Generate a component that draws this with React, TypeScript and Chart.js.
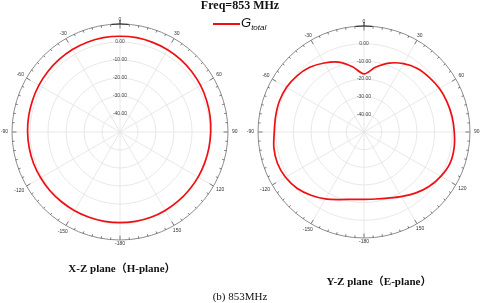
import React, { useEffect, useRef } from 'react';
import { Chart, registerables } from 'chart.js';
Chart.register(...registerables);

// angle categories, degrees clockwise from top
const angleCategories = ['0','10','20','30','40','50','60','70','80','90','100','110','120','130','140','150','160','170','180','190','200','210','220','230','240','250','260','270','280','290','300','310','320','330','340','350'];
// labels shown every 30 degrees around the ring
const angleTickLabels = ['0','30','60','90','120','150','-180','-150','-120','-90','-60','-30'];

// Gain (dBi) – X-Z plane (H-plane)
const hPlaneGain = [3.2,3.2,3.0,2.8,2.5,2.1,1.7,1.2,0.8,0.4,0.2,0.1,0.1,0.1,0.2,0.3,0.4,0.4,0.4,0.4,0.4,0.5,0.6,0.8,0.9,1.1,1.2,1.35,1.5,1.7,2.0,2.3,2.6,2.9,3.1,3.2];
// Gain (dBi) – Y-Z plane (E-plane)
const ePlaneGain = [-17.1,-12.8,-8.5,-5.3,-3.0,-1.8,-0.7,0.0,0.6,1.1,1.8,1.8,0.2,-2.0,-4.8,-7.8,-10.2,-11.5,-11.9,-11.3,-9.3,-6.3,-3.3,-0.5,1.3,2.1,1.8,0.8,0.8,1.0,0.6,-0.5,-2.2,-4.9,-7.9,-12.5];

const rMin = -50;
const rMax = 10;
const rStep = 10;

const polarFrame = {
  id: 'polarFrame',
  afterDraw(chart: any) {
    const s = chart.scales.r;
    const ctx = chart.ctx;
    const R = s.drawingArea, xc = s.xCenter, yc = s.yCenter;
    ctx.save();
    ctx.strokeStyle = '#5a5a5a';
    ctx.lineWidth = 0.8;
    for (let d = 0; d < 360; d += 5) {
      const a = (d * Math.PI) / 180;
      const len = d % 30 === 0 ? 4.5 : 2.2;
      ctx.beginPath();
      ctx.moveTo(xc + R * Math.sin(a), yc - R * Math.cos(a));
      ctx.lineTo(xc + (R - len) * Math.sin(a), yc - (R - len) * Math.cos(a));
      ctx.stroke();
    }
    // marker at 0 degrees
    ctx.strokeStyle = '#222';
    ctx.lineWidth = 1;
    ctx.beginPath();
    ctx.arc(xc, yc, R, -Math.PI / 2 - 0.08, -Math.PI / 2 + 0.08);
    ctx.stroke();
    ctx.beginPath();
    ctx.moveTo(xc, yc - R);
    ctx.lineTo(xc, yc - R - 4);
    ctx.stroke();

    ctx.font = '5px "Liberation Sans", Arial, sans-serif';
    ctx.fillStyle = '#333';
    ctx.textAlign = 'center';
    ctx.textBaseline = 'middle';
    angleTickLabels.forEach((t, k) => {
      const a = (k * 30 * Math.PI) / 180;
      const w = ctx.measureText(t).width;
      const r = R + 4 + Math.abs(Math.sin(a)) * (w / 2);
      ctx.fillText(t, xc + r * Math.sin(a), yc - r * Math.cos(a));
    });
    ctx.restore();
  },
};

function PolarChart({ data, width, height, padding }: { data: number[]; width: number; height: number; padding: any }) {
  const ref = useRef<HTMLCanvasElement>(null);
  useEffect(() => {
    const chart = new Chart(ref.current as HTMLCanvasElement, {
      type: 'radar',
      data: {
        labels: angleCategories,
        datasets: [
          {
            data,
            borderColor: 'rgb(240,14,18)',
            borderWidth: 1.7,
            pointRadius: 0,
            fill: false,
            tension: 0.3,
          },
        ],
      },
      options: {
        animation: false,
        responsive: false,
        layout: { padding },
        plugins: { legend: { display: false }, tooltip: { enabled: false } },
        scales: {
          r: {
            min: rMin,
            max: rMax,
            startAngle: 0,
            ticks: {
              stepSize: rStep,
              showLabelBackdrop: false,
              backdropPadding: 0,
              color: '#444',
              font: { size: 5, family: '"Liberation Sans", Arial, sans-serif' },
              callback: (v: any) => (v === rMax || v === rMin ? '' : Number(v).toFixed(2)),
            },
            grid: {
              circular: true,
              color: (c: any) => (c.tick && c.tick.value === rMax ? '#8c8c8c' : '#e2e2e2'),
              lineWidth: (c: any) => (c.tick && c.tick.value === rMax ? 1 : 0.8),
            },
            angleLines: {
              color: (c: any) => (c.index % 3 === 0 ? '#e2e2e2' : 'rgba(0,0,0,0)'),
              lineWidth: 0.8,
            },
            pointLabels: { display: false },
          },
        },
      },
      plugins: [polarFrame],
    } as any);
    return () => chart.destroy();
  }, []);
  return <canvas ref={ref} width={width} height={height} style={{ width, height, display: 'block' }} />;
}

export default function App() {
  const serif = '"Liberation Serif", "Times New Roman", "Noto Sans CJK SC", serif';
  return (
    <div style={{ position: 'absolute', left: 0, top: 0, width: 480, height: 303, background: '#fff', overflow: 'hidden', fontFamily: serif, color: '#111' }}>
      <div style={{ position: 'absolute', left: 0, top: 0 }}>
        <PolarChart data={hPlaneGain} width={240} height={266} padding={{ left: 9, right: 9, top: 20, bottom: 21 }} />
      </div>
      <div style={{ position: 'absolute', left: 244, top: 0 }}>
        <PolarChart data={ePlaneGain} width={236} height={266} padding={{ left: 11, right: 7, top: 22, bottom: 23 }} />
      </div>
      <div style={{ position: 'absolute', left: 140, width: 200, top: -1, textAlign: 'center', fontWeight: 'bold', fontSize: 12, lineHeight: '12px' }}>Freq=853 MHz</div>
      <div style={{ position: 'absolute', left: 213, top: 23, width: 27, height: 2, background: 'rgb(240,14,18)' }} />
      <div style={{ position: 'absolute', left: 241, top: 16, fontFamily: '"Liberation Sans", Arial, sans-serif', fontStyle: 'italic', fontSize: 13, lineHeight: '14px', whiteSpace: 'nowrap' }}>
        G<sub style={{ fontSize: 8, verticalAlign: '-3px' }}>total</sub>
      </div>
      <div style={{ position: 'absolute', left: 22, width: 200, top: 262, textAlign: 'center', fontWeight: 'bold', fontSize: 11, lineHeight: '12px', whiteSpace: 'nowrap' }}>X-Z plane（H-plane）</div>
      <div style={{ position: 'absolute', left: 279, width: 200, top: 275, textAlign: 'center', fontWeight: 'bold', fontSize: 11, lineHeight: '12px', whiteSpace: 'nowrap' }}>Y-Z plane（E-plane）</div>
      <div style={{ position: 'absolute', left: 140, width: 200, top: 290, textAlign: 'center', fontSize: 11, lineHeight: '12px', whiteSpace: 'nowrap' }}>(b) 853MHz</div>
    </div>
  );
}
